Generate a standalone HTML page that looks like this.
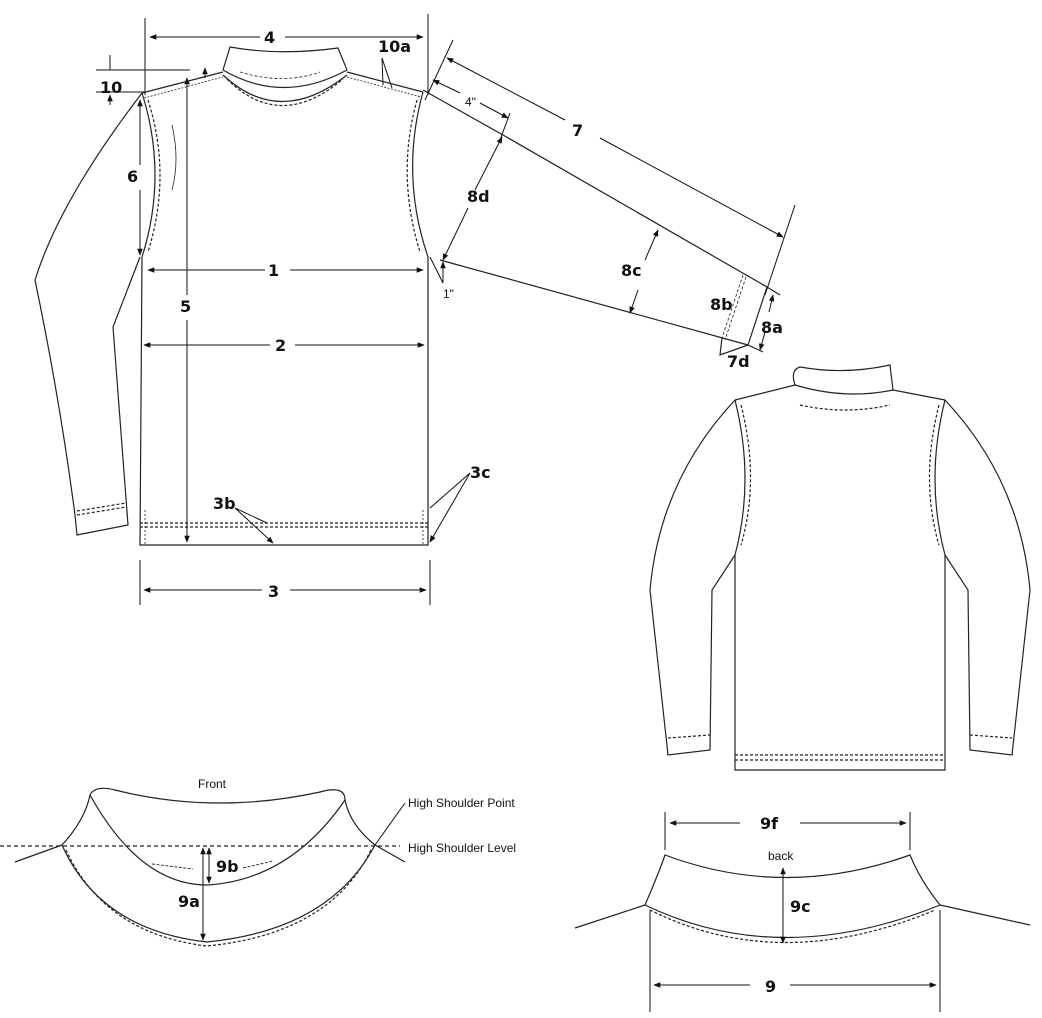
<!DOCTYPE html>
<html><head><meta charset="utf-8"><style>
html,body{margin:0;padding:0;background:#fff;}
svg{display:block}
text{font-family:"DejaVu Sans","Liberation Sans",sans-serif;font-weight:bold;font-size:16px;fill:#111}
.s{font-family:"Liberation Sans",sans-serif;font-weight:normal;font-size:12px}
</style></head><body>
<svg width="1042" height="1018" viewBox="0 0 1042 1018" xmlns="http://www.w3.org/2000/svg">
<defs><marker id="a" viewBox="0 0 10 10" refX="9" refY="5" markerWidth="7" markerHeight="7" orient="auto-start-reverse"><path d="M0,1 L10,5 L0,9 z" fill="#111"/></marker></defs>
<g fill="none" stroke="#222" stroke-width="1.2">
<!-- FRONT collar / shoulders -->
<path d="M142,93 L223,72 M347,72 L423,92"/>
<path d="M144,98 L223,77 M347,77 L421,97" stroke-dasharray="2,1.5" stroke-width="0.8"/>
<path d="M223,70 L230,47 Q280,56 338,48 L347,70"/>
<path d="M223,70 Q283,105 347,70"/>
<path d="M223,75 Q280,128 347,75"/>
<path d="M227,79 Q280,132 343,79" stroke-dasharray="3,2"/>
<path d="M240,72 Q283,85 320,72" stroke-dasharray="3,2" stroke-width="0.8"/>
<!-- body -->
<path d="M142,93 Q168,175 142,257 L140,545 L428,545 L428,257 Q400,175 423,92"/>
<path d="M148,100 Q172,175 148,252" stroke-dasharray="3,2"/>
<path d="M172,125 Q180,160 172,190" stroke-width="0.8"/>
<path d="M417,100 Q396,175 420,252" stroke-dasharray="3,2"/>
<path d="M140,523 L428,523 M140,527 L428,527" stroke-dasharray="3,2"/>
<path d="M145,510 V545 M423,510 V545" stroke-dasharray="2,2" stroke-width="0.8"/>
<!-- left sleeve -->
<path d="M142,93 Q60,200 35,280 Q60,400 75,515 L77,535 L128,525 L113,327 L140,257"/>
<path d="M77,515 L126,507 M77,511 L126,503" stroke-dasharray="3,2"/>
<!-- right sleeve -->
<path d="M423,90 L503,135 L767,287 M767,287 L780,295"/>
<path d="M440,260 L748,345 L763,352"/>
<path d="M767,287 L748,345"/>
<path d="M743,275 L722,338 M746,277 L725,340" stroke-dasharray="3,2" stroke-width="0.8"/>
<path d="M722,338 L720,355 L748,345"/>
<!-- dims -->
<g stroke="#111" stroke-width="1">
<path d="M145,18 V95 M428,14 V95 M96,70 H190 M96,92 H145"/>
<path d="M150,37 H260 M285,37 H423" marker-start="url(#a)" marker-end="url(#a)"/>
<path d="M110,55 V70 M110,105 V95" marker-end="url(#a)"/>
<path d="M148,270 H265 M290,270 H423" marker-start="url(#a)" marker-end="url(#a)"/>
<path d="M144,345 H270 M295,345 H424" marker-start="url(#a)" marker-end="url(#a)"/>
<path d="M140,560 V605 M430,560 V605"/>
<path d="M144,590 H262 M290,590 H426" marker-start="url(#a)" marker-end="url(#a)"/>
<path d="M187,78 V295 M187,320 V542" marker-start="url(#a)" marker-end="url(#a)"/>
<path d="M140,100 V165 M140,190 V255" marker-start="url(#a)" marker-end="url(#a)"/>
<path d="M453,40 L425,100 M795,205 L765,295"/>
<path d="M447,58 L565,120 M600,138 L783,237" marker-start="url(#a)" marker-end="url(#a)"/>
<path d="M433,80 L460,93 M480,103 L508,118" marker-start="url(#a)" marker-end="url(#a)"/>
<path d="M510,113 L500,140"/>
<path d="M502,137 L475,190 M468,208 L443,260" marker-start="url(#a)" marker-end="url(#a)"/>
<path d="M658,230 L645,260 M638,290 L630,313" marker-start="url(#a)" marker-end="url(#a)"/>
<path d="M773,295 L769,312 M765,332 L760,350" marker-start="url(#a)" marker-end="url(#a)"/>
<path d="M430,257 L443,283 M443,283 L443,262" marker-end="url(#a)"/>
<path d="M235,508 L267,523 M235,508 L273,543" marker-end="url(#a)"/>
<path d="M470,473 L430,508 M470,473 L430,542" marker-end="url(#a)"/>
<path d="M382,58 L383,85 M382,58 L392,88"/>
<path d="M205,78 V68" marker-end="url(#a)"/>
</g>
</g>
<text x="264" y="43">4</text><text x="378" y="52">10a</text><text x="100" y="93">10</text>
<text x="127" y="182">6</text><text x="268" y="276">1</text><text x="275" y="351">2</text>
<text x="180" y="312">5</text><text x="268" y="597">3</text><text x="213" y="509">3b</text>
<text x="470" y="478">3c</text><text x="572" y="136">7</text><text x="467" y="202">8d</text>
<text x="621" y="276">8c</text><text x="710" y="310">8b</text><text x="761" y="333">8a</text>
<text x="727" y="367">7d</text>
<text class="s" x="465" y="106">4"</text><text class="s" x="443" y="298">1"</text>
<!-- BACK -->
<g fill="none" stroke="#222" stroke-width="1.2">
<path d="M795,385 Q790,370 800,367 Q845,375 890,365 L893,390"/>
<path d="M735,400 L795,385 Q845,400 893,390 L945,400"/>
<path d="M800,405 Q845,415 890,405" stroke-dasharray="3,2"/>
<path d="M735,400 Q755,480 735,555 L735,770 L945,770 L945,555 Q925,480 945,400"/>
<path d="M741,405 Q760,480 741,545" stroke-dasharray="3,2"/>
<path d="M939,405 Q920,480 939,545" stroke-dasharray="3,2"/>
<path d="M735,755 H945 M735,760 H945" stroke-dasharray="3,2"/>
<path d="M735,400 Q660,480 650,590 L668,755 L710,750 L712,590 L735,555"/>
<path d="M945,400 Q1020,480 1030,590 L1012,755 L970,750 L968,590 L945,555"/>
<path d="M668,738 L710,735 M970,735 L1012,738" stroke-dasharray="3,2"/>
<!-- front neck detail -->
<path d="M62,845 Q85,820 90,795 Q95,785 115,790 Q215,815 320,792 Q345,785 345,800 Q350,825 375,845"/>
<path d="M90,795 Q140,885 207,885 Q290,880 345,800"/>
<path d="M62,845 Q100,930 207,942 Q330,930 375,845"/>
<path d="M66,850 Q105,934 207,946 Q330,934 371,850" stroke-dasharray="3,2"/>
<path d="M62,845 L15,862 M375,845 L405,862"/>
<path d="M0,846 H400" stroke-dasharray="4,3"/>
<path d="M152,864 L193,869 M243,868 L273,861" stroke-dasharray="3,1.5" stroke-width="0.9"/>
<!-- back neck detail -->
<path d="M645,905 Q660,870 665,855 Q785,900 910,855 Q920,880 940,905"/>
<path d="M645,905 Q780,970 940,905"/>
<path d="M650,910 Q780,975 935,910" stroke-dasharray="3,2"/>
<path d="M575,928 L645,905 M940,905 L1030,925"/>
<g stroke="#111" stroke-width="1">
<path d="M665,812 V850 M910,812 V850 M650,910 V1012 M940,910 V1012"/>
<path d="M670,823 H740 M800,823 H906" marker-start="url(#a)" marker-end="url(#a)"/>
<path d="M654,985 H750 M790,985 H936" marker-start="url(#a)" marker-end="url(#a)"/>
<path d="M783,868 V943" marker-start="url(#a)" marker-end="url(#a)"/>
<path d="M203,848 V940" marker-start="url(#a)" marker-end="url(#a)"/>
<path d="M209,848 V883" marker-start="url(#a)" marker-end="url(#a)"/>
<path d="M405,803 L375,845"/>
</g>
</g>
<text class="s" x="198" y="788">Front</text>
<text class="s" x="408" y="807">High Shoulder Point</text>
<text class="s" x="408" y="852">High Shoulder Level</text>
<text x="216" y="872">9b</text><text x="178" y="907">9a</text>
<text x="760" y="829">9f</text><text class="s" x="768" y="860">back</text>
<text x="790" y="912">9c</text><text x="765" y="992">9</text>
</svg>
</body></html>
